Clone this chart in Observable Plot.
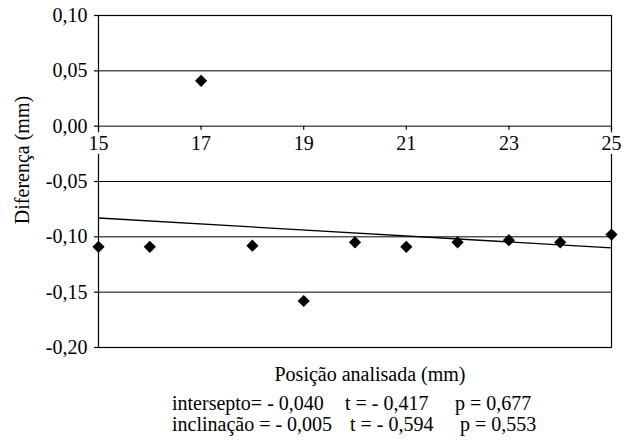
<!DOCTYPE html>
<html>
<head>
<meta charset="utf-8">
<style>
  html, body, #wrap, #wrap *, svg, svg text, div { font-family: "Liberation Serif", Tinos, "Times New Roman", serif !important; }
</style>
<script src="https://cdn.jsdelivr.net/npm/d3@7"></script>
<script src="https://cdn.jsdelivr.net/npm/@observablehq/plot@0.6"></script>
</head>
<body style="margin:0;background:#fff">
<div id="wrap" style="position:relative;width:631px;height:444px;color:#000"></div>
<script>
// Data
const posicao = [15, 16, 17, 18, 19, 20, 21, 22, 23, 24, 25];
const diferenca = [-0.109, -0.109, 0.041, -0.108, -0.158, -0.105, -0.109, -0.105, -0.103, -0.105, -0.098];
const trendX = [15, 25];
const trendY = [-0.083, -0.110];
const yTicks = [0.10, 0.05, 0.00, -0.05, -0.10, -0.15, -0.20];
const xTicks = [15, 17, 19, 21, 23, 25];
const yLabel = "Diferença (mm)";
const xLabel = "Posição analisada (mm)";
const statsLine1 = ["intersepto= - 0,040", "t = - 0,417", "p = 0,677"];
const statsLine2 = ["inclinação = - 0,005", "t = - 0,594", "p = 0,553"];

const points = posicao.map((x, i) => ({x, y: diferenca[i]}));
const trend = trendX.map((x, i) => ({x, y: trendY[i]}));

const W = 631, H = 444, mL = 98, mR = 20, mT = 15, mB = 97;
const yDomain = [-0.2, 0.1];
const plotH = H - mT - mB;
const zeroPx = mT + (yDomain[1] - 0) / (yDomain[1] - yDomain[0]) * plotH;
const axisDy = zeroPx - (H - mB);

const fmt = d => d.toFixed(2).replace(".", ",");
const FONT = "'Liberation Serif', Tinos, 'Times New Roman', serif";

const chart = Plot.plot({
  width: W, height: H,
  marginLeft: mL, marginRight: mR, marginTop: mT, marginBottom: mB,
  style: {fontFamily: FONT, fontSize: "20px", color: "black", background: "white"},
  x: {domain: [15, 25]},
  y: {domain: yDomain},
  marks: [
    Plot.ruleY(yTicks, {stroke: "black", strokeWidth: 1}),
    Plot.frame({stroke: "black", strokeWidth: 1.2}),
    Plot.line(trend, {x: "x", y: "y", stroke: "black", strokeWidth: 1.3}),
    Plot.dot(points, {x: "x", y: "y", symbol: "diamond2", fill: "black", stroke: "none", r: 5.5}),
    Plot.axisY({ticks: yTicks, tickFormat: fmt, tickSize: 4, tickPadding: 7, label: null, stroke: "black", strokeWidth: 1.2}),
    Plot.axisX({ticks: xTicks, tickFormat: d => String(d), tickSize: 4, tickPadding: 6, label: null,
      dy: axisDy, stroke: "black", strokeWidth: 1.2, textStroke: "white", textStrokeWidth: 8})
  ]
});

const wrap = document.getElementById("wrap");
wrap.appendChild(chart);
chart.querySelectorAll("text").forEach(t => {
  t.setAttribute("font-family", "Liberation Serif");
  t.style.setProperty("font-family", FONT, "important");
});

function addText(str, left, top, center, rotate) {
  const d = document.createElement("div");
  d.textContent = str;
  d.style.cssText = "position:absolute;font-size:20px;line-height:20px;white-space:pre";
  d.style.setProperty("font-family", FONT, "important");
  d.style.top = top + "px";
  d.style.left = left + "px";
  if (rotate) d.style.transform = "translate(-50%, -50%) rotate(-90deg)";
  else if (center) d.style.transform = "translateX(-50%)";
  wrap.appendChild(d);
}
addText(yLabel, 22, 160, true, true);
addText(xLabel, 370, 364, true);
const col1 = [172, 345, 455], col2 = [172, 350, 460];
statsLine1.forEach((s, i) => addText(s, col1[i], 393, false));
statsLine2.forEach((s, i) => addText(s, col2[i], 414, false));
</script>
</body>
</html>
